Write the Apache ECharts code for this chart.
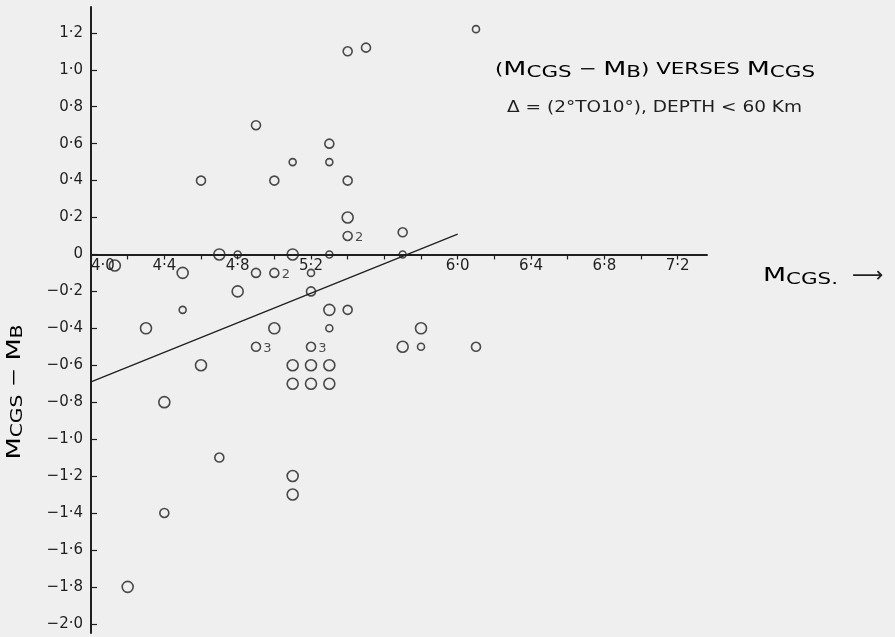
<!DOCTYPE html>
<html>
<head>
<meta charset="utf-8">
<script src="https://cdn.jsdelivr.net/npm/echarts@6/dist/echarts.min.js"></script>
<style>
html,body{margin:0;padding:0;background:#efefef;}
#chart{width:895px;height:637px;}
</style>
</head>
<body>
<div id="chart"></div>
<script>
// ---- data ----
// [M_CGS, M_CGS - M_B, count]
const largePts = [
  [4.13,-0.06],[4.5,-0.1],[4.7,0],[5.1,0],[4.8,-0.2],[5.0,-0.4],[5.8,-0.4],[5.7,-0.5],
  [4.4,-0.8],[4.6,-0.6],[4.3,-0.4],[5.1,-0.6],[5.2,-0.6],[5.3,-0.6],[5.1,-0.7],[5.2,-0.7],
  [5.3,-0.7],[5.1,-1.2],[5.1,-1.3],[5.3,-0.3],[4.2,-1.8],[5.4,0.2]
];
const mediumPts = [
  [5.4,-0.3],[4.9,-0.1],[5.0,-0.1,2],[5.2,-0.2],[6.1,-0.5],[4.6,0.4],[5.0,0.4],[4.9,0.7],
  [5.4,1.1],[5.5,1.12],[5.3,0.6],[5.4,0.4],[5.7,0.12],[4.4,-1.4],[4.7,-1.1],[5.4,0.1,2],
  [4.9,-0.5,3],[5.2,-0.5,3]
];
const smallPts = [
  [4.8,0],[5.3,0],[5.7,0],[4.5,-0.3],[5.1,0.5],[5.3,0.5],[5.8,-0.5],[6.1,1.22],[5.2,-0.1],[5.3,-0.4]
];
const fitLine = [[4.0,-0.69],[6.0,0.11]];
const xTicks = [4.0,4.2,4.4,4.6,4.8,5.0,5.2,5.4,5.6,5.8,6.0,6.2,6.4,6.6,6.8,7.0,7.2];
const xTickLabels = [4.0,4.4,4.8,5.2,6.0,6.4,6.8,7.2];
const yTicks = [-2.0,-1.8,-1.6,-1.4,-1.2,-1.0,-0.8,-0.6,-0.4,-0.2,0,0.2,0.4,0.6,0.8,1.0,1.2];

const INK = '#1f1f1f';
const FONT = 'DejaVu Sans';
const fmt = v => (Math.abs(v) < 1e-9 ? '0' : v.toFixed(1).replace('.', '·').replace('-', '−'));

// layout
const W = 895, H = 637;
const GRID = { left: 91, right: 188, top: 7, bottom: 4 };
const X_MIN = 4.0, X_MAX = 7.36, Y_MIN = -2.05, Y_MAX = 1.34;
const plotH = H - GRID.top - GRID.bottom;
const zeroFromBottom = plotH * (0 - Y_MIN) / (Y_MAX - Y_MIN);

// text measuring for horizontal stretching of the hand-lettered labels
const mctx = document.createElement('canvas').getContext('2d');
function tw(size, text) { mctx.font = size + 'px "' + FONT + '"'; return mctx.measureText(text).width; }
function richWidth(tokens, rich) {
  return tokens.reduce((s, t) => s + tw(rich[t[0]].fontSize, t[1]), 0);
}
function richText(tokens) { return tokens.map(t => '{' + t[0] + '|' + t[1] + '}').join(''); }

function pts(arr) {
  return arr.map(p => {
    const item = { value: [p[0], p[1]] };
    if (p[2] && p[2] > 1) item.label = { show: true, formatter: String(p[2]) };
    return item;
  });
}
function scatter(arr, size) {
  return {
    type: 'scatter', data: pts(arr), symbol: 'circle', symbolSize: size,
    itemStyle: { color: 'rgba(0,0,0,0)', borderColor: INK, borderWidth: 1.6 },
    label: { show: false, position: 'right', distance: 2, offset: [0, 2],
             color: INK, fontFamily: FONT, fontSize: 13 },
    emphasis: { disabled: true }, silent: true, z: 3
  };
}

// titles
const richA = {
  p: { fontFamily: FONT, fontSize: 16, color: INK },
  m: { fontFamily: FONT, fontSize: 20, color: INK },
  s: { fontFamily: FONT, fontSize: 16, color: INK, padding: [6, 0, 0, 0] }
};
const title1 = [['p','('],['m','M'],['s','CGS'],['p',' − '],['m','M'],['s','B'],['p',') VERSES '],['m','M'],['s','CGS']];
const title2 = 'Δ = (2°TO10°), DEPTH < 60 Km';
const xTitle = [['m','M'],['s','CGS.']];
const yTitle = [['m','M'],['s','CGS'],['p',' − '],['m','M'],['s','B']];
const richX = {
  m: { fontFamily: FONT, fontSize: 20, color: INK },
  s: { fontFamily: FONT, fontSize: 16, color: INK, padding: [8, 0, 0, 0] }
};
const richY = {
  p: { fontFamily: FONT, fontSize: 17, color: INK },
  m: { fontFamily: FONT, fontSize: 19, color: INK },
  s: { fontFamily: FONT, fontSize: 15, color: INK, padding: [7, 0, 0, 0] }
};

const chart = echarts.init(document.getElementById('chart'), null, { renderer: 'canvas' });
chart.setOption({
  backgroundColor: '#efefef',
  animation: false,
  grid: Object.assign({ containLabel: false, outerBoundsMode: 'none' }, GRID),
  xAxis: {
    type: 'value', min: X_MIN, max: X_MAX, position: 'bottom',
    offset: -zeroFromBottom,
    axisLine: { onZero: false, lineStyle: { color: INK, width: 2 } },
    axisTick: { show: true, inside: false, length: 5, customValues: xTicks,
                lineStyle: { color: INK, width: 1.2 } },
    axisLabel: { customValues: xTickLabels, formatter: fmt, color: INK, fontFamily: FONT,
                 fontSize: 15, margin: 4, alignMinLabel: 'left' },
    splitLine: { show: false }
  },
  yAxis: {
    type: 'value', min: Y_MIN, max: Y_MAX,
    axisLine: { onZero: false, lineStyle: { color: INK, width: 2 } },
    axisTick: { show: true, inside: true, length: 6, customValues: yTicks,
                lineStyle: { color: INK, width: 1.2 } },
    axisLabel: { customValues: yTicks, formatter: fmt, color: INK, fontFamily: FONT,
                 fontSize: 15, margin: 8 },
    splitLine: { show: false }
  },
  series: [
    { type: 'line', data: fitLine, symbol: 'none', silent: true,
      lineStyle: { color: INK, width: 1.3 }, z: 2 },
    scatter(largePts, 11),
    scatter(mediumPts, 9),
    scatter(smallPts, 7)
  ],
  graphic: [
    { type: 'text', x: 495, y: 70, scaleX: 320 / richWidth(title1, richA),
      style: { text: richText(title1), rich: richA, align: 'left', verticalAlign: 'middle' } },
    { type: 'text', x: 507, y: 108, scaleX: 295 / tw(16, title2),
      style: { text: title2, fill: INK, fontFamily: FONT, fontSize: 16, align: 'left', verticalAlign: 'middle' } },
    { type: 'text', x: 763, y: 276, scaleX: 75 / richWidth(xTitle, richX),
      style: { text: richText(xTitle), rich: richX, align: 'left', verticalAlign: 'middle' } },
    { type: 'text', x: 852, y: 276,
      style: { text: '⟶', fill: INK, fontFamily: FONT, fontSize: 22, align: 'left', verticalAlign: 'middle' } },
    { type: 'text', x: 15, y: 392, rotation: Math.PI / 2, scaleX: 135 / richWidth(yTitle, richY),
      style: { text: richText(yTitle), rich: richY, align: 'center', verticalAlign: 'middle' } }
  ]
});
</script>
</body>
</html>
